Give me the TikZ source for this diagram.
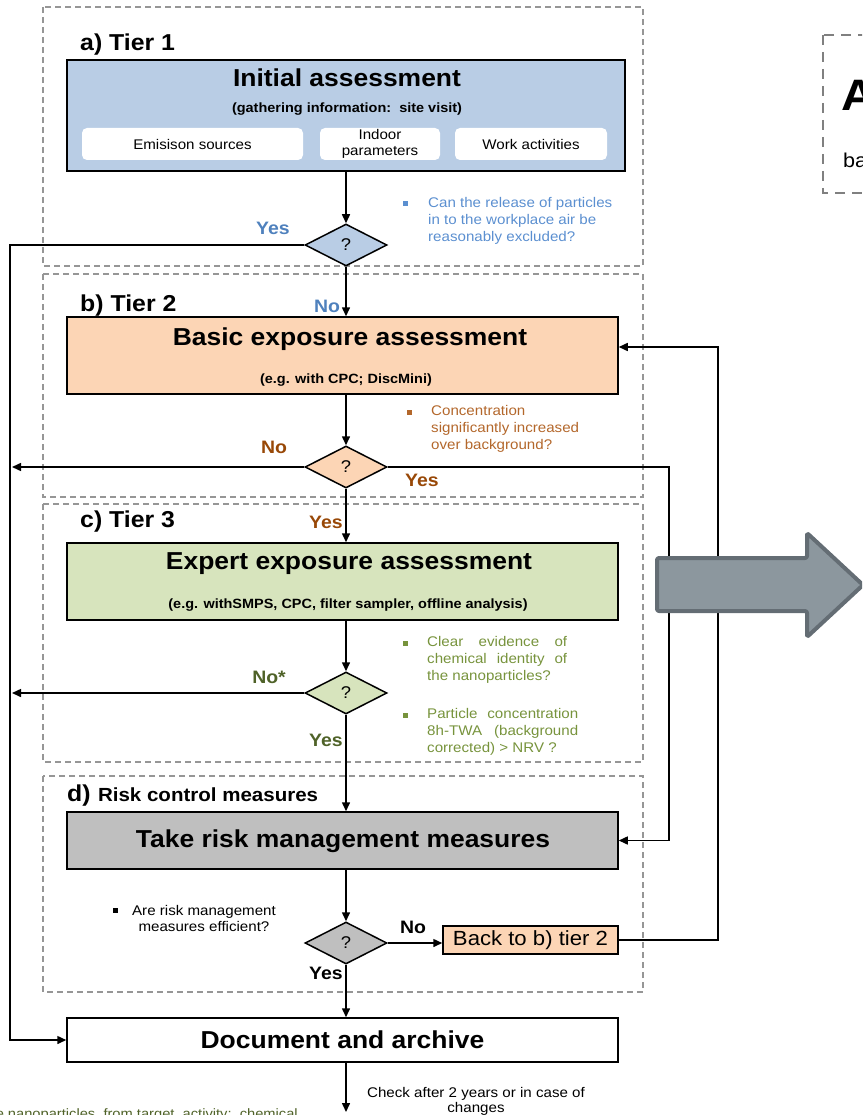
\documentclass[tikz,border=0pt]{standalone}
\usepackage{fontspec}
\setmainfont{Liberation Sans}[FakeStretch=1.08]
\usetikzlibrary{arrows.meta,shapes.geometric}
\definecolor{blueF}{HTML}{B9CDE5}
\definecolor{blueT}{HTML}{4F81BD}
\definecolor{blueN}{HTML}{5B8FD0}
\definecolor{peachF}{HTML}{FCD5B5}
\definecolor{brownT}{HTML}{984807}
\definecolor{brownN}{HTML}{B3672B}
\definecolor{greenF}{HTML}{D7E4BD}
\definecolor{greenT}{HTML}{4F6228}
\definecolor{greenN}{HTML}{77933C}
\definecolor{grayF}{HTML}{BFBFBF}
\definecolor{frameC}{HTML}{969696}
\definecolor{frameD}{HTML}{808080}
\definecolor{arrF}{HTML}{8C979E}
\definecolor{arrD}{HTML}{646D74}
\newcommand{\fsz}[2]{\fontsize{#1}{#2}\selectfont}
\begin{document}
\begin{tikzpicture}[x=1pt,y=-1pt,
  frame/.style={draw=frameC, line width=1.2pt, dash pattern=on 6pt off 4pt},
  box/.style={draw=black, line width=1.5pt, inner sep=0pt},
  title/.style={font=\bfseries\fsz{24.5}{28}, inner sep=0pt},
  sub/.style={font=\bfseries\fsz{13.4}{15}, inner sep=0pt},
  tier/.style={font=\bfseries\fsz{23}{26}, anchor=west, inner sep=0pt},
  dia/.style={diamond, draw=black, line width=1.5pt, minimum width=82pt, minimum height=42pt, inner sep=0pt, font=\fsz{17}{20}},
  lab/.style={font=\bfseries\fsz{18}{20}, inner sep=0pt},
  note/.style={font=\fsz{14}{17}, anchor=north west, inner sep=0pt, align=left},
  bul/.style={minimum size=5pt, inner sep=0pt},
  arr/.style={draw=black, line width=1.5pt, -{Triangle[length=9pt,width=8pt]}},
  wbox/.style={fill=white, rounded corners=5pt, inner sep=0pt, font=\fsz{14}{16}, align=center},
]
\useasboundingbox (0,0) rectangle (862,1115);
\clip (0,0) rectangle (862,1115);

% dashed tier frames
\draw[frame] (43,7) rectangle (643,266);
\draw[frame] (43,274) rectangle (643,497);
\draw[frame] (43,504) rectangle (643,762);
\draw[frame] (43,776) rectangle (643,992);

% coordinates for the side lines
\coordinate (lx) at (10,0);
\coordinate (rx1) at (669,0);
\coordinate (rx2) at (718,347);
\coordinate (endc) at (346,1112);

% Tier 1
\node[tier] (ta) at (80,45) {a) Tier 1};
\node[box, fill=blueF, minimum width=558pt, minimum height=111pt] (ia) at (346,115.5) {};
\node[title] (iat) at (347,78) {Initial assessment};
\node[sub] (ias) at (347,109) {(gathering information:\ \ site visit)};
\node[wbox, minimum width=221pt, minimum height=32pt] (w1) at (192.5,144) {Emisison sources};
\node[wbox, minimum width=120pt, minimum height=32pt] (w2) at (380,144) {Indoor\\parameters};
\node[wbox, minimum width=152pt, minimum height=32pt] (w3) at (531,144) {Work activities};
\node[dia, fill=blueF] (d1) at (346,245) {?};
\node[lab, text=blueT] (y1) at (273,228) {Yes};
\node[lab, text=blueT] (n1) at (327,306) {No};
\node[bul, fill=blueN] (b1) at (405,204) {};
\node[note, text=blueN] (q1) at (428,197) {Can the release of particles\\in to the workplace air be\\reasonably excluded?};

% Tier 2
\node[tier] (tb) at (80,306) {b) Tier 2};
\node[box, fill=peachF, minimum width=551pt, minimum height=77pt] (basic) at (342.5,355.5) {};
\node[title] (bt) at (350,339) {Basic exposure assessment};
\node[sub] (bs) at (346,380) {(e.g. with CPC; DiscMini)};
\node[dia, fill=peachF] (d2) at (346,467) {?};
\node[lab, text=brownT] (n2) at (274,447) {No};
\node[lab, text=brownT] (y2) at (422,480) {Yes};
\node[bul, fill=brownN] (b2) at (409,412) {};
\node[note, text=brownN] (q2) at (431,405) {Concentration\\significantly increased\\over background?};

% Tier 3
\node[tier] (tc) at (80,522) {c) Tier 3};
\node[lab, text=brownT] (y2b) at (326,522) {Yes};
\node[box, fill=greenF, minimum width=551pt, minimum height=77pt] (expert) at (342.5,581.5) {};
\node[title] (et) at (349,564) {Expert exposure assessment};
\node[sub] (es) at (348,605) {(e.g. withSMPS, CPC, filter sampler, offline analysis)};
\node[dia, fill=greenF] (d3) at (346,693) {?};
\node[lab, text=greenT] (n3) at (269,677) {No*};
\node[lab, text=greenT] (y3) at (326,740) {Yes};
\node[bul, fill=greenN] (b3) at (405,643) {};
\node[note, text=greenN, text width=140pt, align=justify] (q3) at (427,636) {Clear evidence of\linebreak chemical identity of\linebreak the nanoparticles?};
\node[bul, fill=greenN] (b4) at (405,715) {};
\node[note, text=greenN, text width=151pt, align=justify] (q4) at (427,708) {Particle concentration\linebreak 8h-TWA (background\linebreak corrected) > NRV ?};

% Tier d
\node[font=\bfseries\fsz{23}{26}, anchor=west, inner sep=0pt] (td) at (67,796) {d)};
\node[font=\bfseries\fsz{19}{22}, anchor=base west, inner sep=0pt] (tdr) at ([xshift=7pt]td.base east) {Risk control measures};
\node[box, fill=grayF, minimum width=551pt, minimum height=57pt] (risk) at (342.5,840.5) {};
\node[title] (rt) at (343,841) {Take risk management measures};
\node[dia, fill=grayF] (d4) at (346,943) {?};
\node[lab] (n4) at (413,927) {No};
\node[lab] (y4) at (326,973) {Yes};
\node[bul, fill=black] (b5) at (115,910) {};
\node[font=\fsz{14}{16}, align=center, inner sep=0pt] (q5) at (204,918) {Are risk management\\measures efficient?};
\node[box, fill=peachF, minimum width=175pt, minimum height=28pt, font=\fsz{20.5}{22}] (back) at (530.5,940) {Back to b) tier 2};

% Document
\node[box, fill=white, minimum width=551pt, minimum height=44pt] (doc) at (342.5,1040) {};
\node[title] (dt) at (342.5,1040) {Document and archive};
\node[font=\fsz{14}{15}, align=center, inner sep=0pt] (chk) at (476,1101.5) {Check after 2 years or in case of\\changes};
\node[font=\fsz{13.6}{16}, text=greenT, anchor=base east, inner sep=0pt] (cut) at (298,1118) {e nanoparticles\ \ from target\ \ activity;\ \ chemical};

% connectors
\draw[arr] (ia.south -| d1.north) -- (d1.north);
\draw[arr] (d1.west) -- (d1.west -| lx) -- (doc.west -| lx) -- (doc.west);
\draw[arr] (d1.south) -- (d1.south |- basic.north);
\draw[arr] (d1.south |- basic.south) -- (d2.north);
\draw[arr] (d2.west) -- ([xshift=2pt]d2.west -| lx);
\draw[arr] (d2.east) -- (d2.east -| rx1) -- (risk.east -| rx1) -- (risk.east);
\draw[arr] (d2.south) -- (d2.south |- expert.north);
\draw[arr] (d2.south |- expert.south) -- (d3.north);
\draw[arr] (d3.west) -- ([xshift=2pt]d3.west -| lx);
\draw[arr] (d3.south) -- (d3.south |- risk.north);
\draw[arr] (d3.south |- risk.south) -- (d4.north);
\draw[arr] (d4.east) -- (d4.east -| back.west);
\draw[arr] (back.east) -- (back.east -| rx2) -- (rx2) -- (rx2 -| basic.east);
\draw[arr] (d4.south) -- (d4.south |- doc.north);
\draw[arr] (d4.south |- doc.south) -- (endc);

% big arrow
\draw[fill=arrF, draw=arrD, line width=4pt, line join=round, rounded corners=2pt]
  (657,558) -- (807,558) -- (807,533) -- (863,585) -- (807,637) -- (807,611) -- (657,611) -- cycle;

% top-right cut box
\draw[draw=frameD, line width=2.8pt, dash pattern=on 10pt off 7pt] (823,35) rectangle (900,193);
\node[anchor=west, font=\bfseries\fsz{44}{48}, inner sep=0pt] (bigA) at (841,95) {A};
\node[anchor=west, font=\fsz{20}{24}, inner sep=0pt] (ba) at (843,160) {ba};
\end{tikzpicture}
\end{document}
